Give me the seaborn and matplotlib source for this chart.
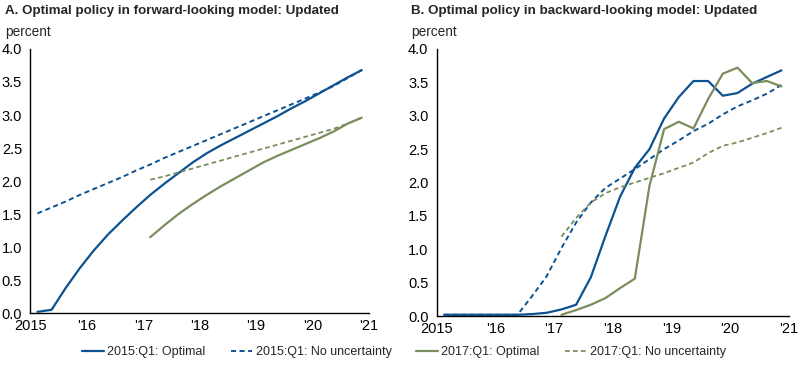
import numpy as np
import pandas as pd
import matplotlib
matplotlib.use("Agg")
import matplotlib.pyplot as plt
import seaborn as sns

# =========================
# DATA (quarterly, 2015:Q1 to 2020:Q4)
# =========================

quarters_2015 = ["2015Q1", "2015Q2", "2015Q3", "2015Q4",
                 "2016Q1", "2016Q2", "2016Q3", "2016Q4",
                 "2017Q1", "2017Q2", "2017Q3", "2017Q4",
                 "2018Q1", "2018Q2", "2018Q3", "2018Q4",
                 "2019Q1", "2019Q2", "2019Q3", "2019Q4",
                 "2020Q1", "2020Q2", "2020Q3", "2020Q4"]
quarters_2017 = quarters_2015[8:]

# Panel A: forward-looking model
fwd_opt_2015 = [0.02, 0.05, 0.38, 0.68, 0.95, 1.19, 1.40, 1.60,
                1.79, 1.96, 2.12, 2.28, 2.42, 2.54, 2.65, 2.76,
                2.87, 2.98, 3.10, 3.21, 3.33, 3.45, 3.57, 3.68]
fwd_nou_2015 = [1.51, 1.60, 1.69, 1.79, 1.88, 1.97, 2.06, 2.16,
                2.25, 2.35, 2.44, 2.53, 2.62, 2.71, 2.80, 2.89,
                2.98, 3.07, 3.16, 3.25, 3.34, 3.44, 3.56, 3.68]
fwd_opt_2017 = [1.15, 1.33, 1.50, 1.65, 1.79, 1.92, 2.04, 2.16,
                2.28, 2.38, 2.47, 2.56, 2.65, 2.75, 2.87, 2.96]
fwd_nou_2017 = [2.02, 2.07, 2.13, 2.19, 2.25, 2.31, 2.37, 2.43,
                2.49, 2.55, 2.61, 2.67, 2.73, 2.79, 2.87, 2.96]

# Panel B: backward-looking model
bwd_opt_2015 = [0.02, 0.02, 0.02, 0.02, 0.02, 0.02, 0.03, 0.05,
                0.10, 0.17, 0.58, 1.20, 1.79, 2.22, 2.50, 2.96,
                3.28, 3.52, 3.52, 3.30, 3.34, 3.48, 3.58, 3.68]
bwd_nou_2015 = [0.02, 0.02, 0.02, 0.02, 0.02, 0.02, 0.30, 0.60,
                1.02, 1.40, 1.70, 1.92, 2.06, 2.20, 2.35, 2.50,
                2.63, 2.77, 2.88, 3.02, 3.14, 3.23, 3.33, 3.46]
bwd_opt_2017 = [0.02, 0.09, 0.17, 0.27, 0.42, 0.56, 1.95, 2.80,
                2.91, 2.81, 3.25, 3.63, 3.72, 3.49, 3.52, 3.44]
bwd_nou_2017 = [1.19, 1.47, 1.70, 1.84, 1.93, 2.00, 2.07, 2.14,
                2.22, 2.30, 2.44, 2.55, 2.60, 2.67, 2.74, 2.82]

series_names = ["2015:Q1: Optimal", "2015:Q1: No uncertainty",
                "2017:Q1: Optimal", "2017:Q1: No uncertainty"]

panel_titles = ["A. Optimal policy in forward-looking model: Updated",
                "B. Optimal policy in backward-looking model: Updated"]

year_ticks = [2015, 2016, 2017, 2018, 2019, 2020, 2021]
year_labels = ["2015", "'16", "'17", "'18", "'19", "'20", "'21"]
y_ticks = [0.0, 0.5, 1.0, 1.5, 2.0, 2.5, 3.0, 3.5, 4.0]

BLUE = "#0c5291"
GREEN = "#7a8d5c"


def to_year(q):
    # mid-point of the quarter
    return int(q[:4]) + (int(q[-1]) - 1) * 0.25 + 0.125


def build_frame(opt15, nou15, opt17, nou17):
    parts = []
    for name, qs, vals in [(series_names[0], quarters_2015, opt15),
                           (series_names[1], quarters_2015, nou15),
                           (series_names[2], quarters_2017, opt17),
                           (series_names[3], quarters_2017, nou17)]:
        parts.append(pd.DataFrame({"date": [to_year(q) for q in qs],
                                   "value": vals,
                                   "series": name}))
    return pd.concat(parts, ignore_index=True)


df_a = build_frame(fwd_opt_2015, fwd_nou_2015, fwd_opt_2017, fwd_nou_2017)
df_b = build_frame(bwd_opt_2015, bwd_nou_2015, bwd_opt_2017, bwd_nou_2017)

styles = {
    series_names[0]: dict(color=BLUE, linestyle="-", linewidth=1.6),
    series_names[1]: dict(color=BLUE, linestyle=(0, (2.6, 1.8)), linewidth=1.4),
    series_names[2]: dict(color=GREEN, linestyle="-", linewidth=1.6),
    series_names[3]: dict(color=GREEN, linestyle=(0, (2.6, 1.8)), linewidth=1.3),
}

# =========================
# PLOT
# =========================

sns.set_style("white")
plt.rcParams["font.family"] = ["Liberation Sans", "DejaVu Sans"]

fig = plt.figure(figsize=(8, 3.71), dpi=100)
ax_a = fig.add_axes([0.038, 0.156, 0.423, 0.712])
ax_b = fig.add_axes([0.546, 0.148, 0.440, 0.720])

for ax, df, title in [(ax_a, df_a, panel_titles[0]), (ax_b, df_b, panel_titles[1])]:
    for name in series_names:
        sub = df[df["series"] == name]
        sns.lineplot(data=sub, x="date", y="value", ax=ax, label=name,
                     legend=False, **styles[name])

    ax.set_xlim(2015, 2021)
    ax.set_ylim(0, 4)
    ax.set_xticks(year_ticks)
    ax.set_xticklabels(year_labels)
    ax.set_yticks(y_ticks)
    ax.set_yticklabels([f"{v:.1f}" for v in y_ticks])
    ax.set_xlabel("")
    ax.set_ylabel("")

    for side in ["top", "right"]:
        ax.spines[side].set_visible(False)
    for side in ["left", "bottom"]:
        ax.spines[side].set_color("black")
        ax.spines[side].set_linewidth(1.0)

    ax.tick_params(axis="x", direction="in", length=4, width=1.0,
                   labelsize=10.5, pad=4, colors="black")
    ax.tick_params(axis="y", direction="out", length=4, width=1.0,
                   labelsize=10.5, pad=2, colors="black")

    # panel title and unit label, placed above the axes
    x0 = ax.get_position().x0
    fig.text(x0 - 0.032, 0.97, title, fontsize=9.6, fontweight="bold",
             ha="left", va="center")
    fig.text(x0 - 0.032, 0.915, "percent", fontsize=9.8, ha="left", va="center")

handles = [plt.Line2D([], [], **styles[name]) for name in series_names]
fig.legend(handles, series_names, loc="center", bbox_to_anchor=(0.505, 0.051),
           ncol=4, frameon=False, fontsize=9, handlelength=1.7,
           handletextpad=0.3, columnspacing=2.0)

fig.savefig("out.png", dpi=100)
